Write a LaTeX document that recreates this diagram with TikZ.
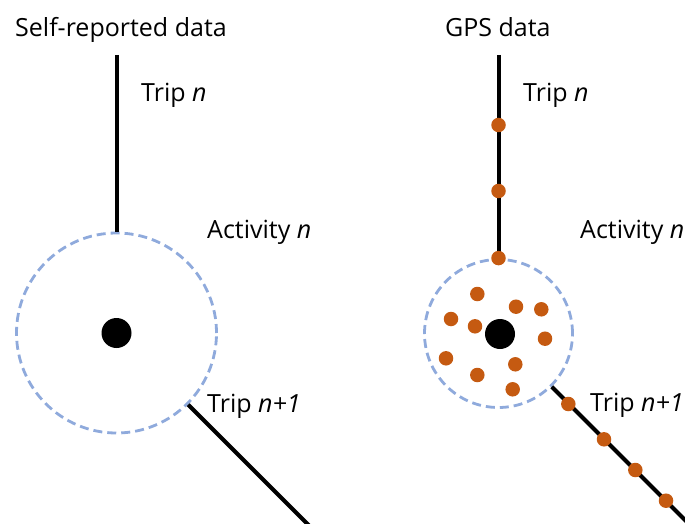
\documentclass[tikz,border=0pt]{standalone}
\usepackage{fontspec}
\setmainfont{Open Sans}
\definecolor{zoneblue}{HTML}{8FAADC}
\definecolor{gpsorange}{HTML}{C55A11}
\begin{document}
\begin{tikzpicture}[x=1pt,y=-1pt,
  track/.style={line width=4pt, draw=black},
  zone/.style={circle, draw=zoneblue, dash pattern=on 9pt off 5pt, line width=2.8pt, inner sep=0pt},
  place/.style={circle, fill=black, minimum size=30pt, inner sep=0pt},
  fix/.style={circle, fill=gpsorange, minimum size=14.5pt, inner sep=0pt},
  lbl/.style={font=\fontsize{25}{29}\selectfont, anchor=base west, inner sep=0pt}]
\useasboundingbox (0,0) rectangle (685,524);
\clip (0,0) rectangle (685,524);
% ---------- left panel ----------
\node[lbl] (ltitle) at (15,37) {Self-reported data};
\node[zone, minimum size=200pt] (lzone) at (116.5,333) {};
\node[place] (lplace) at (lzone.center) {};
\coordinate (ltop) at (116.5,55);
\coordinate (lend) at (336.5,553);
\draw[track] (ltop) -- (lzone.north);
\draw[track] (lzone.-45) -- (lend);
\node[lbl] (ltripn) at (141,102) {Trip \textit{n}};
\node[lbl] (lact) at (207,238) {Activity \textit{n}};
\node[lbl] (ltripn1) at (207,412) {Trip \textit{n+1}};
% ---------- right panel ----------
\node[lbl] (rtitle) at (445,37) {GPS data};
\node[zone, minimum size=148pt] (rzone) at (498.5,333.5) {};
\coordinate (rtop) at (498.5,55);
\coordinate (rend) at (718.5,553.5);
\draw[track] (rtop) -- (rzone.north);
\draw[track] (rzone.-45) -- (rend);
\node[place] (rplace) at (500,334) {};
\node[fix] (t1) at (498.5,125) {};
\node[fix] (t2) at (498.5,191) {};
\node[fix] (t3) at (rzone.north) {};
\node[fix] (a1) at (477.3,294) {};
\node[fix] (a2) at (516,306.7) {};
\node[fix] (a3) at (541.3,309.3) {};
\node[fix] (a4) at (451,319) {};
\node[fix] (a5) at (475,326.3) {};
\node[fix] (a6) at (545,338.7) {};
\node[fix] (a7) at (446,358.3) {};
\node[fix] (a8) at (515.3,364.3) {};
\node[fix] (a9) at (477.3,375) {};
\node[fix] (a10) at (512.7,389.3) {};
\node[fix] (d1) at (568.3,404) {};
\node[fix] (d2) at (604,439.3) {};
\node[fix] (d3) at (635.3,470) {};
\node[fix] (d4) at (666,500.7) {};
\node[lbl] (rtripn) at (523,102) {Trip \textit{n}};
\node[lbl] (ract) at (580,238) {Activity \textit{n}};
\node[lbl] (rtripn1) at (590,411) {Trip \textit{n+1}};
\end{tikzpicture}
\end{document}
